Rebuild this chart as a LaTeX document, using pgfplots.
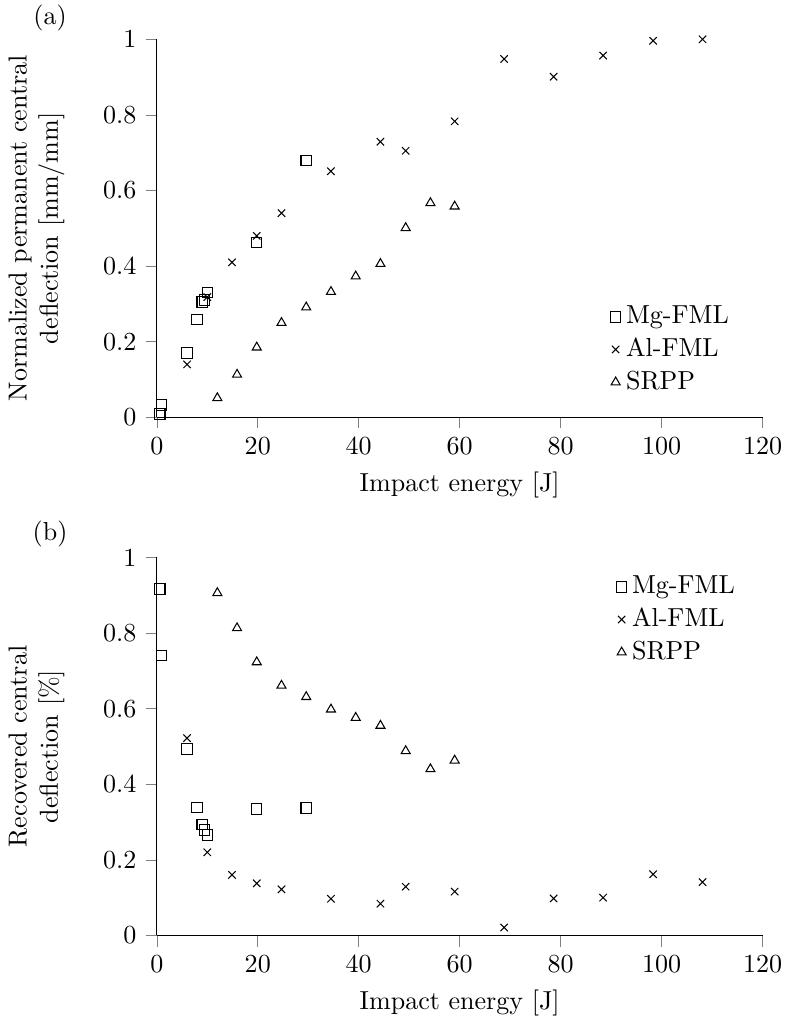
\documentclass[border=0pt]{standalone}
\usepackage{pgfplots}
\pgfplotsset{compat=1.18}
\begin{document}
\begin{tikzpicture}
\pgfplotsset{
  myaxis/.style={
    width=232.7pt, height=145.2pt, scale only axis,
    axis lines=left, axis line style={-}, tick align=outside,
    xmin=0, xmax=120, ymin=0, ymax=1,
    xtick={0,20,...,120}, ytick={0,0.2,...,1},
    yticklabels={0,0.2,0.4,0.6,0.8,1},
    xlabel={Impact energy [J]},
    xlabel style={inner ysep=1.4pt},
    xlabel shift=1.9pt,
    ylabel style={align=center},
    ylabel shift=8pt,
    legend cell align=left,
    legend image code/.code={\draw[#1] plot coordinates {(0cm,0cm)};},
    clip=false,
  },
  mg/.style={only marks, mark=square, black, mark size=2pt},
  al/.style={only marks, mark=x, black, mark size=2pt},
  sr/.style={only marks, mark=triangle, black, mark size=2pt},
}
\begin{axis}[myaxis,
  ylabel={Normalized permanent central\\deflection [mm/mm]},
  legend style={draw=none, fill=none, at={(1,0)}, anchor=south east, xshift=-7.8pt, yshift=5pt},
]
\addplot[mg] coordinates {(0.6,0.009) (0.9,0.033) (6,0.170) (8,0.259) (9,0.305) (9.5,0.31) (10,0.330) (19.8,0.463) (29.6,0.680)};
\addlegendentry{Mg-FML}
\addplot[al] coordinates {(6,0.140) (10,0.318) (14.9,0.410) (19.8,0.480) (24.7,0.540) (34.5,0.651) (44.3,0.729) (49.3,0.705) (59,0.783) (68.8,0.948) (78.6,0.901) (88.4,0.957) (98.3,0.996) (108.1,1.0)};
\addlegendentry{Al-FML}
\addplot[sr] coordinates {(12,0.051) (15.9,0.113) (19.8,0.185) (24.7,0.250) (29.6,0.291) (34.5,0.332) (39.4,0.373) (44.3,0.406) (49.3,0.501) (54.2,0.567) (59,0.558)};
\addlegendentry{SRPP}
\node[inner sep=2.1pt] at (rel axis cs:0,1) [xshift=-41pt, yshift=8pt] {(a)};
\end{axis}
\begin{axis}[myaxis, at={(0pt,-199pt)},
  ylabel={Recovered central\\deflection [\%]},
  legend style={draw=none, fill=none, at={(1,1)}, anchor=north east, xshift=-5.5pt, yshift=-3pt},
]
\addplot[mg] coordinates {(0.6,0.916) (0.9,0.740) (6,0.493) (8,0.339) (9,0.293) (9.5,0.279) (10,0.266) (19.8,0.334) (29.6,0.337)};
\addlegendentry{Mg-FML}
\addplot[al] coordinates {(6,0.522) (10,0.220) (14.9,0.160) (19.8,0.138) (24.7,0.122) (34.5,0.097) (44.3,0.084) (49.3,0.129) (59,0.116) (68.8,0.021) (78.6,0.098) (88.4,0.100) (98.3,0.162) (108.1,0.141)};
\addlegendentry{Al-FML}
\addplot[sr] coordinates {(12,0.906) (15.9,0.813) (19.8,0.723) (24.7,0.661) (29.6,0.631) (34.5,0.598) (39.4,0.576) (44.3,0.555) (49.3,0.488) (54.2,0.440) (59,0.463)};
\addlegendentry{SRPP}
\node at (rel axis cs:0,1) [xshift=-41pt, yshift=9pt] {(b)};
\end{axis}
\end{tikzpicture}
\end{document}
